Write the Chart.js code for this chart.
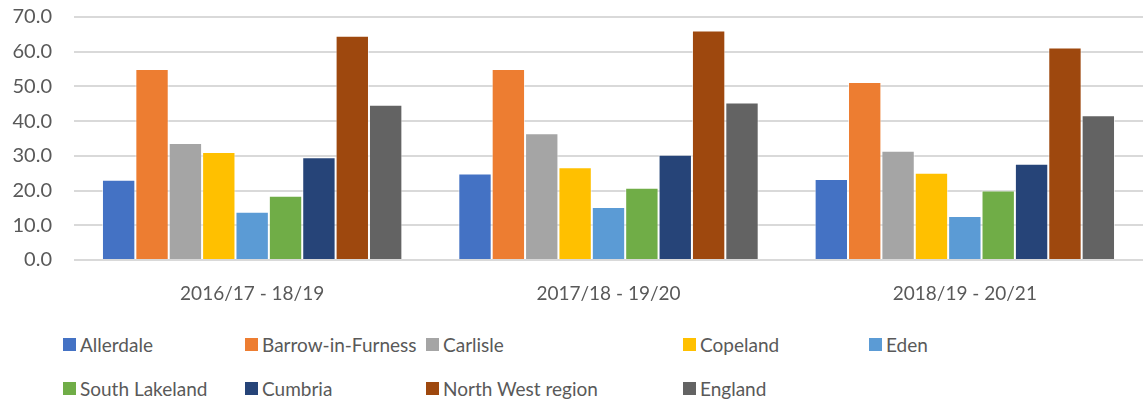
<!DOCTYPE html>
<html lang="en">
<head>
    <meta charset="UTF-8">
    <title>Rates by area</title>
    <script src="https://cdn.jsdelivr.net/npm/chart.js@4.4.0/dist/chart.umd.min.js"></script>
    <style>
        html, body { margin: 0; padding: 0; background: #fff; overflow: hidden; }
        #wrap { position: relative; width: 1143px; height: 407px; font-family: Lato, sans-serif; overflow: hidden; }
        #chart-box { position: absolute; left: 0; top: -17px; width: 1143px; height: 337px; }
        #legend {
            position: absolute; left: 63px; top: 333px;
            display: grid; grid-template-columns: 182px 181px 257px 186px auto;
            row-gap: 21px; color: #595959; font-size: 19px; line-height: 23px;
        }
        .item { display: flex; align-items: center; white-space: nowrap; }
        .swatch { width: 13px; height: 13px; margin-right: 4px; flex: none; }
    </style>
</head>
<body>
<div id="wrap">
    <div id="chart-box"><canvas id="chart"></canvas></div>
    <div id="legend"></div>
</div>
<script>
    const categories = ['2016/17 - 18/19', '2017/18 - 19/20', '2018/19 - 20/21'];
    const seriesNames = ['Allerdale', 'Barrow-in-Furness', 'Carlisle', 'Copeland', 'Eden',
                         'South Lakeland', 'Cumbria', 'North West region', 'England'];

    // values, one array per area
    const allerdale     = [23.1, 24.9, 23.3];
    const barrow        = [55.0, 55.0, 51.3];
    const carlisle      = [33.7, 36.5, 31.5];
    const copeland      = [31.1, 26.7, 25.1];
    const eden          = [13.9, 15.3, 12.7];
    const southLakeland = [18.5, 20.8, 20.0];
    const cumbria       = [29.6, 30.3, 27.7];
    const northWest     = [64.6, 66.1, 61.2];
    const england       = [44.7, 45.4, 41.7];

    const yTicks = [0, 10, 20, 30, 40, 50, 60, 70];

    const seriesValues = [allerdale, barrow, carlisle, copeland, eden, southLakeland, cumbria, northWest, england];
    const seriesColors = ['#4472C4', '#ED7D31', '#A5A5A5', '#FFC000', '#5B9BD5',
                          '#70AD47', '#264478', '#9E480E', '#636363'];

    const textColor = '#595959';
    const font = { family: 'Lato, sans-serif', size: 19 };

    const datasets = seriesNames.map((name, i) => ({
        label: name,
        data: seriesValues[i],
        backgroundColor: seriesColors[i],
        borderColor: 'rgba(255,255,255,0.6)',
        borderWidth: 1,
        borderSkipped: 'bottom',
        categoryPercentage: 0.843,
        barPercentage: 1.0
    }));

    const chart = new Chart(document.getElementById('chart'), {
        type: 'bar',
        data: { labels: categories, datasets: datasets },
        options: {
            responsive: true,
            maintainAspectRatio: false,
            animation: false,
            devicePixelRatio: 1,
            layout: { padding: { top: 0, right: 0, left: 0, bottom: 0 } },
            plugins: { legend: { display: false }, tooltip: { enabled: false } },
            scales: {
                x: {
                    grid: { display: false, drawTicks: false },
                    border: { display: false },
                    ticks: { color: textColor, font: font, padding: 22, maxRotation: 0 },
                    afterFit: (s) => { s.height = 60; }
                },
                y: {
                    min: yTicks[0],
                    max: yTicks[yTicks.length - 1],
                    afterBuildTicks: (s) => { s.ticks = yTicks.map(v => ({ value: v })); },
                    grid: { color: '#d9d9d9', lineWidth: 2, drawTicks: false },
                    border: { display: false },
                    ticks: { color: textColor, font: { family: 'Lato, sans-serif', size: 20 }, padding: 22,
                             callback: (v) => Number(v).toFixed(1) },
                    afterFit: (s) => { s.width = 74; }
                }
            }
        }
    });

    // legend as html, built from the chart datasets
    const legend = document.getElementById('legend');
    chart.data.datasets.forEach((ds) => {
        const item = document.createElement('div');
        item.className = 'item';
        const sw = document.createElement('span');
        sw.className = 'swatch';
        sw.style.background = ds.backgroundColor;
        const label = document.createElement('span');
        label.textContent = ds.label;
        item.appendChild(sw);
        item.appendChild(label);
        legend.appendChild(item);
    });
</script>
</body>
</html>
